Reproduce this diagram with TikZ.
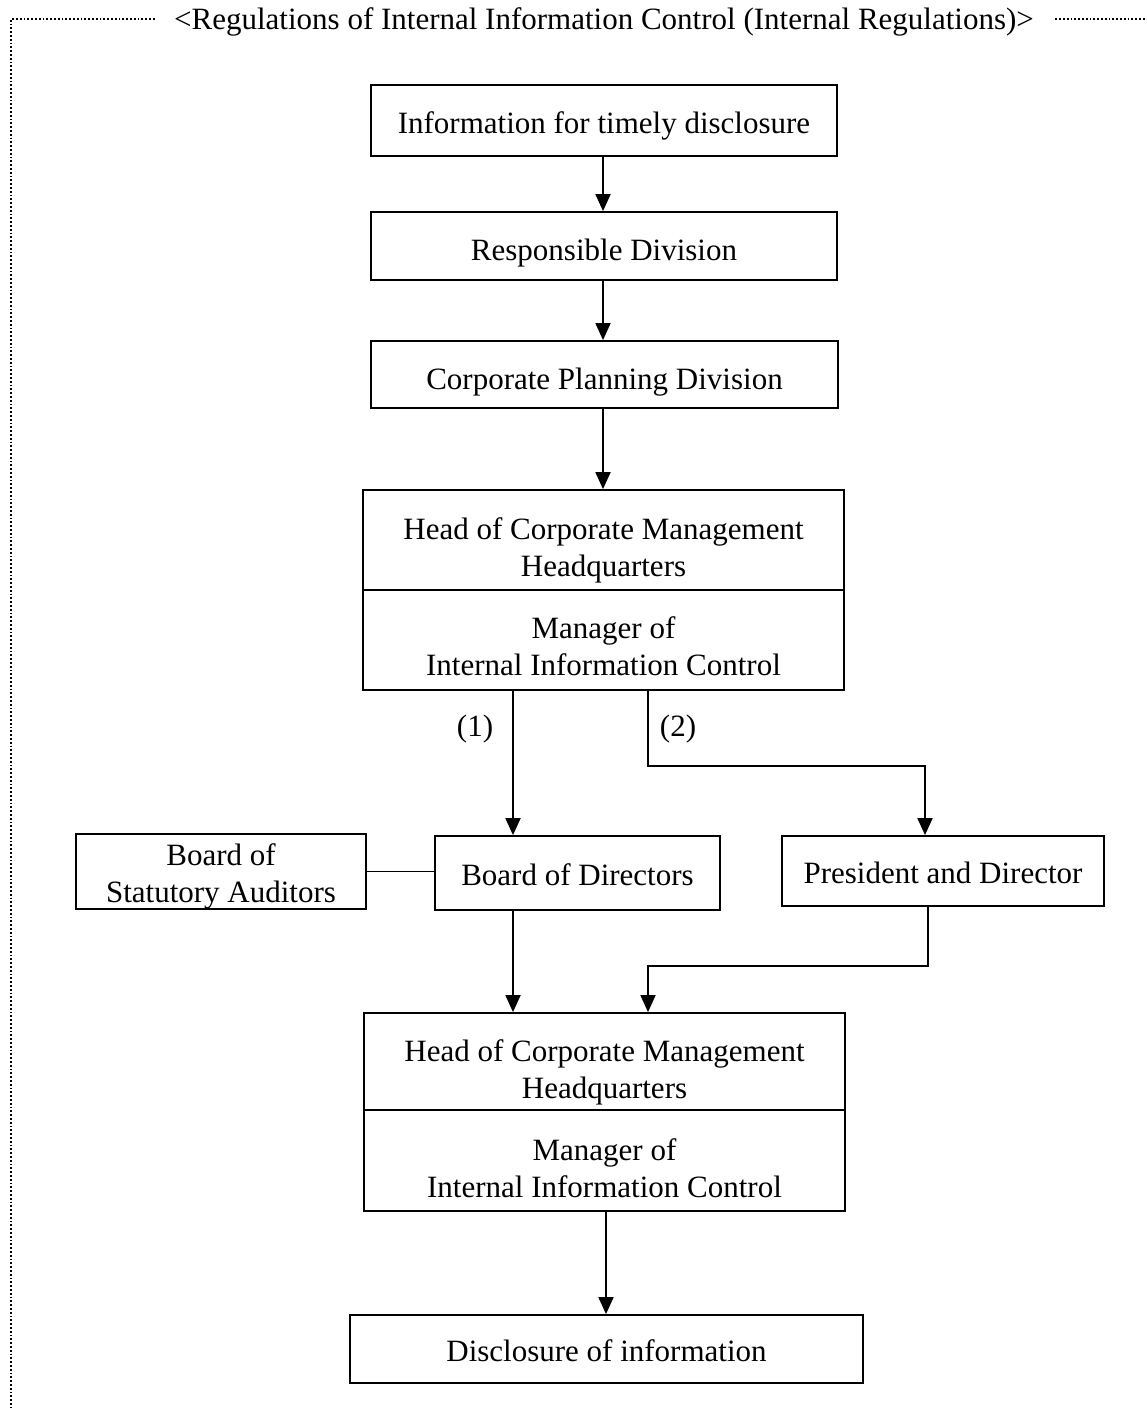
\documentclass[tikz,border=0pt]{standalone}
\usepackage{fontspec}
\setmainfont{Liberation Serif}
\usetikzlibrary{arrows.meta}
\begin{document}
\begin{tikzpicture}[x=1pt,y=-1pt,
  box/.style={draw,line width=1.8pt,inner sep=0pt,align=center,font=\fontsize{31}{37}\selectfont},
  lbl/.style={font=\fontsize{31}{37}\selectfont},
  arr/.style={line width=1.8pt,-{Triangle[width=15pt,length=17pt]}},
  ln/.style={line width=1.8pt},
  frame/.style={line width=1.8pt,dotted}]
\useasboundingbox (0,0) rectangle (1146,1408);
% frame
\node[lbl] (title) at (604,22) {<Regulations of Internal Information Control (Internal Regulations)>};
\coordinate (fl) at (11,19);
\coordinate (fb) at (11,1408);
\coordinate (fr) at (1146,19);
\draw[frame] (title.west |- fl) ++(-16,0) -- (fl) -- (fb);
\draw[frame] (title.east |- fr) ++(18,0) -- (fr);
% boxes
\node[box,minimum width=466pt,minimum height=71pt,text height=25pt,text depth=0pt] (n1) at (604,120.5) {Information for timely disclosure};
\node[box,minimum width=466pt,minimum height=68pt,text height=28pt,text depth=0pt] (n2) at (604,246) {Responsible Division};
\node[box,minimum width=467pt,minimum height=67pt,text height=29pt,text depth=0pt] (n3) at (604.5,374.5) {Corporate Planning Division};
\node[box,minimum width=481pt,minimum height=100pt,text height=72pt,text depth=0pt] (n4a) at (603.5,540) {Head of Corporate Management\\Headquarters};
\node[box,minimum width=481pt,minimum height=100pt,text height=70pt,text depth=0pt] (n4b) at (603.5,640) {Manager of\\Internal Information Control};
\node[box,minimum width=290pt,minimum height=75pt,text height=61pt,text depth=0pt] (n5) at (221,871.5) {Board of\\Statutory Auditors};
\node[box,minimum width=285pt,minimum height=74pt,text height=25pt,text depth=0pt] (n6) at (577.5,873) {Board of Directors};
\node[box,minimum width=322pt,minimum height=70pt,text height=24pt,text depth=0pt] (n7) at (943,871) {President and Director};
\node[box,minimum width=481pt,minimum height=97pt,text height=73pt,text depth=0pt] (n8a) at (604.5,1061.5) {Head of Corporate Management\\Headquarters};
\node[box,minimum width=481pt,minimum height=101pt,text height=73pt,text depth=0pt] (n8b) at (604.5,1160.5) {Manager of\\Internal Information Control};
\node[box,minimum width=513pt,minimum height=68pt,text height=24pt,text depth=0pt] (n9) at (606.5,1349) {Disclosure of information};
% connectors
\coordinate (x1) at (603,0);
\coordinate (x2) at (513,0);
\coordinate (x3) at (648,0);
\coordinate (x4) at (925,0);
\coordinate (x5) at (928,0);
\coordinate (x6) at (606,0);
\coordinate (y1) at (0,766);
\coordinate (y2) at (0,966);
\draw[arr] (x1 |- n1.south) -- (x1 |- n2.north);
\draw[arr] (x1 |- n2.south) -- (x1 |- n3.north);
\draw[arr] (x1 |- n3.south) -- (x1 |- n4a.north);
\draw[arr] (x2 |- n4b.south) -- (x2 |- n6.north);
\node[lbl] (l1) at (475,729) {(1)};
\draw[arr] (x3 |- n4b.south) -- (x3 |- y1) -| (x4 |- n7.north);
\node[lbl] (l2) at (678,729) {(2)};
\draw[ln] (n5.east) -- (n5.east -| n6.west);
\draw[arr] (x2 |- n6.south) -- (x2 |- n8a.north);
\draw[arr] (x5 |- n7.south) -- (x5 |- y2) -| (x3 |- n8a.north);
\draw[arr] (x6 |- n8b.south) -- (x6 |- n9.north);
\end{tikzpicture}
\end{document}
